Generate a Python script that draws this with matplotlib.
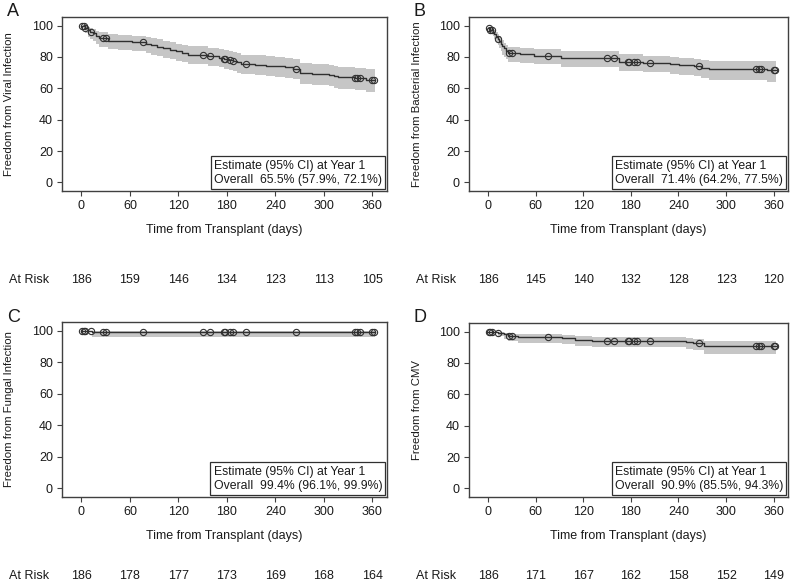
import numpy as np
import matplotlib
matplotlib.use('Agg')
import matplotlib.pyplot as plt

plt.rcParams['font.family'] = ['Liberation Sans', 'DejaVu Sans']

# ---- data ----
x_ticks = [0, 60, 120, 180, 240, 300, 360]
y_ticks = [0, 20, 40, 60, 80, 100]

# censored observations (days), roughly the same patients in all panels
censor_days = [1, 3, 5, 12, 27, 30, 76, 150, 159, 176, 178, 184, 188, 204,
               266, 338, 341, 344, 360, 362]
end_day = 363

# A: viral infection
viral_t = [0, 3, 5, 8, 11, 14, 18, 22, 33, 45, 62, 80, 86, 93, 101, 109, 117,
           125, 132, 157, 170, 176, 182, 187, 193, 198, 215, 228, 240, 252,
           262, 270, 285, 306, 312, 318, 338, 352]
viral_s = [100, 99.5, 98.5, 97, 96, 95, 93.5, 92, 90.5, 90, 89.5, 88.4, 87.5,
           86.5, 85.5, 84.5, 83.5, 82.5, 81.5, 80.5, 79.5, 78.8, 78, 77.3, 76.5,
           75.5, 75, 74.5, 74, 73.3, 72.5, 69.8, 69, 68.5, 67.7, 67, 66.5, 65.5]
viral_lo = [100, 97.5, 95.5, 93, 91.5, 90, 88, 86.5, 85, 84.5, 84, 82.5, 81.5,
            80.5, 79.5, 78.5, 77.5, 76.5, 75.5, 74.5, 73.5, 72.5, 71.8, 71, 70,
            69, 68.5, 68, 67.3, 66.5, 65.7, 62.8, 62, 61.3, 60.5, 59.6, 59, 57.9]
viral_hi = [100, 100, 99.7, 99, 98.5, 97.8, 96.8, 95.7, 94.5, 94, 93.6, 92.8,
            92, 91.2, 90.3, 89.4, 88.5, 87.6, 86.8, 86, 85, 84.4, 83.7, 83.1,
            82.3, 81.5, 81, 80.5, 80, 79.4, 78.7, 76.2, 75.5, 75, 74.3, 73.7,
            73.2, 72.1]
viral_risk = [186, 159, 146, 134, 123, 113, 105]

# B: bacterial infection
bact_t = [0, 3, 6, 8, 10, 12, 14, 16, 18, 20, 22, 25, 40, 58, 92, 165, 195,
          229, 241, 260, 268, 278, 352]
bact_s = [98.5, 97.5, 96, 94.5, 93, 91.5, 90, 88.5, 87, 85.5, 84, 82.5, 81.9,
          80.8, 79.3, 77, 76, 75.3, 74.7, 74, 73, 72.2, 71.4]
bact_lo = [98.5, 95.5, 93.5, 91.5, 89.5, 87.5, 85.5, 83.5, 81.5, 80, 78.5, 77,
           76.3, 75.2, 73.6, 71.2, 70.1, 69.3, 68.6, 67.8, 66.7, 65.3, 64.2]
bact_hi = [98.5, 99, 98.2, 97, 95.8, 94.5, 93.2, 91.9, 90.6, 89.2, 87.9, 86.6,
           86, 85, 83.7, 81.6, 80.7, 80.1, 79.6, 79, 78.2, 77.6, 77.5]
bact_risk = [186, 145, 140, 132, 128, 123, 120]

# C: fungal infection
fung_t = [0, 13]
fung_s = [100, 99.4]
fung_lo = [100, 96.1]
fung_hi = [100, 99.9]
fung_risk = [186, 178, 177, 173, 169, 168, 164]

# D: CMV
cmv_t = [0, 12, 20, 25, 38, 93, 110, 131, 250, 258, 272]
cmv_s = [100, 99, 98.2, 97.2, 96.4, 95.8, 94.8, 94.2, 93.3, 92.7, 90.9]
cmv_lo = [100, 97, 95.5, 94, 93, 92, 90.8, 90, 89, 88.2, 85.5]
cmv_hi = [100, 99.8, 99.3, 98.7, 98.2, 97.8, 97, 96.7, 96, 95.6, 94.3]
cmv_risk = [186, 171, 167, 162, 158, 152, 149]

panels = [
    ('A', 'Freedom from Viral Infection', viral_t, viral_s, viral_lo, viral_hi,
     viral_risk, '65.5% (57.9%, 72.1%)'),
    ('B', 'Freedom from Bacterial Infection', bact_t, bact_s, bact_lo, bact_hi,
     bact_risk, '71.4% (64.2%, 77.5%)'),
    ('C', 'Freedom from Fungal Infection', fung_t, fung_s, fung_lo, fung_hi,
     fung_risk, '99.4% (96.1%, 99.9%)'),
    ('D', 'Freedom from CMV', cmv_t, cmv_s, cmv_lo, cmv_hi,
     cmv_risk, '90.9% (85.5%, 94.3%)'),
]

# axes boxes in pixels: left, right, top, bottom
W, H = 800, 585
boxes = [(62, 387, 17, 191), (469, 788, 17, 191),
         (62, 387, 322, 497), (469, 788, 323, 497)]

fig = plt.figure(figsize=(8, 5.85), dpi=100)
fig.patch.set_facecolor('white')

LINE = '#303030'
BAND = '#c6c6c6'
TXT = '#1a1a1a'

for (letter, ylabel, t, s, lo, hi, risk, est), (l, r, tp, bt) in zip(panels, boxes):
    ax = fig.add_axes([l / W, 1 - bt / H, (r - l) / W, (bt - tp) / H])

    t = np.array(t, dtype=float)
    s = np.array(s, dtype=float)

    # confidence band from the first event onwards
    bt_x = np.append(t[1:], end_day)
    ax.fill_between(bt_x, np.append(lo[1:], lo[-1]), np.append(hi[1:], hi[-1]),
                    step='post', color=BAND, linewidth=0, zorder=1)

    # KM step line
    ax.step(np.append(t, end_day), np.append(s, s[-1]), where='post',
            color=LINE, linewidth=1.0, zorder=2)

    # censor marks on the curve
    cd = np.array(censor_days, dtype=float)
    cy = s[np.searchsorted(t, cd, side='right') - 1]
    ax.plot(cd, cy, linestyle='none', marker='o', markersize=4.5,
            markerfacecolor='none', markeredgecolor=LINE, markeredgewidth=0.8,
            zorder=3)

    ax.set_xlim(-24, 378)
    ax.set_ylim(-5.5, 105.5)
    ax.set_xticks(x_ticks)
    ax.set_yticks(y_ticks)
    ax.tick_params(direction='out', length=3.5, width=0.8, colors='#404040',
                   labelcolor=TXT, labelsize=9, pad=3)
    for sp in ax.spines.values():
        sp.set_color('#404040')
        sp.set_linewidth(1.0)

    ax.set_xlabel('Time from Transplant (days)', fontsize=9, color=TXT)
    ax.xaxis.set_label_coords(0.5, -0.19)
    ax.set_ylabel(ylabel, fontsize=8.2, color=TXT)
    ax.yaxis.set_label_coords(-0.148, 0.5)

    ax.text(0.985, 0.03, 'Estimate (95% CI) at Year 1\nOverall  ' + est,
            transform=ax.transAxes, ha='right', va='bottom', fontsize=8.8,
            color=TXT, linespacing=1.25, multialignment='left', zorder=5,
            bbox=dict(boxstyle='square,pad=0.25', facecolor='white',
                      edgecolor='#303030', linewidth=0.9))

    # panel letter
    fig.text((l - 55) / W, 1 - (tp - 5) / H, letter, fontsize=13, color=TXT,
             ha='left', va='center')

    # numbers at risk
    risk_y = bt + (89 if bt < 300 else 79)
    for xt, n in zip(x_ticks, risk):
        xp = ax.transData.transform((xt, 0))[0]
        fig.text(xp / W, 1 - risk_y / H, str(n), fontsize=9, color=TXT,
                 ha='center', va='center')
    fig.text((l - 53) / W, 1 - risk_y / H, 'At Risk', fontsize=9, color=TXT,
             ha='left', va='center')

fig.savefig('out.png', dpi=100, facecolor='white')
